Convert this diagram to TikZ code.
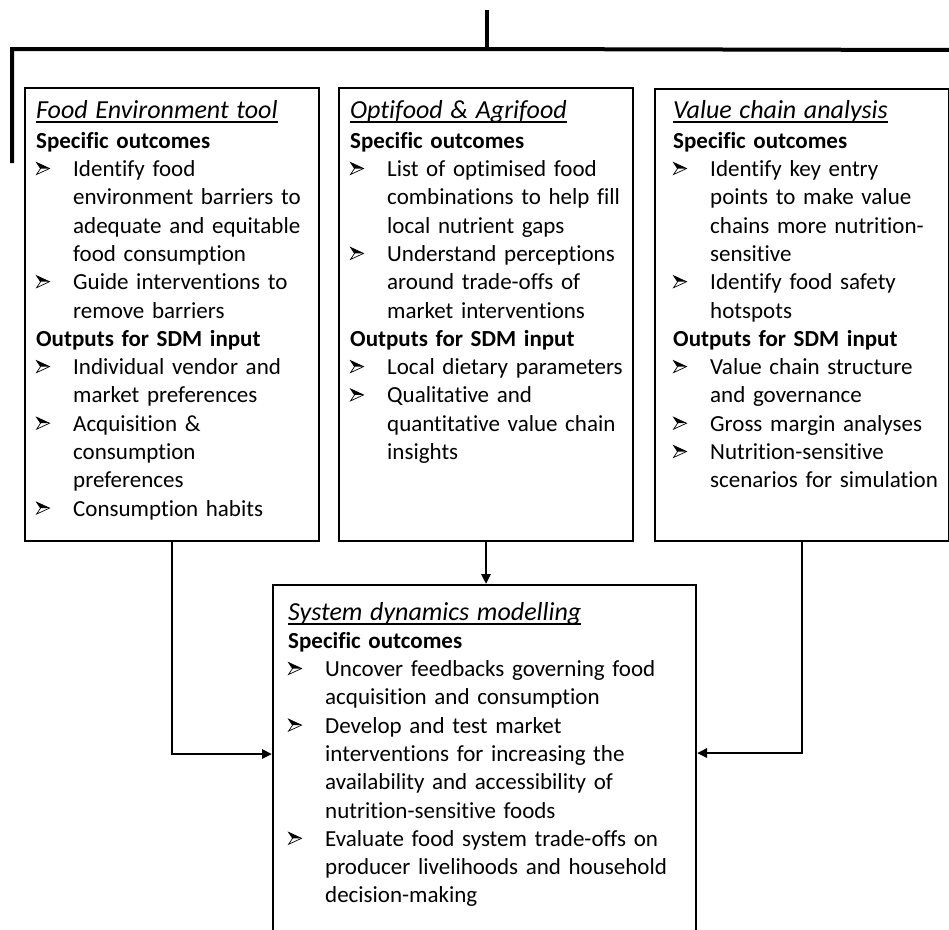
\documentclass[tikz,border=0pt]{standalone}
\usepackage{fontspec}
\setmainfont{Carlito}[Ligatures=NoCommon]
\usetikzlibrary{arrows.meta}
\newsavebox\ttlbox
\newsavebox\bulbox
\sbox\bulbox{\tikz[baseline=0pt]{%
  \fill[black] (0pt,14pt) -- (13pt,8pt) -- (4pt,8pt) -- cycle;
  \draw[black, line width=0.7pt, line join=miter] (0pt,14pt) -- (13pt,8pt) -- (0pt,2pt) -- (4pt,8pt) -- cycle;}}
\newcommand{\bul}{\makebox[37pt][l]{\usebox\bulbox}}
\newcommand{\ind}{\hspace*{37pt}}
\newcommand{\ttl}[1]{\sbox\ttlbox{\fontsize{26}{28.3}\selectfont\itshape #1}\rule{0pt}{20pt}\rlap{\rule[-4.3pt]{\wd\ttlbox}{1.2pt}}\usebox\ttlbox}
\newcommand{\hd}[1]{\textbf{#1}}
\tikzset{
  boxstyle/.style={draw=black, line width=2pt, inner sep=0pt, anchor=north west},
  txtstyle/.style={inner sep=0pt, anchor=north west, align=left, text width=#1,
    font=\fontsize{23}{28.3}\selectfont},
  link/.style={line width=2.5pt},
  trunk/.style={line width=4pt},
  arr/.style={link, -{Triangle[length=10pt,width=9pt]}}
}
\begin{document}
\begin{tikzpicture}[x=1pt,y=-1pt]
\useasboundingbox (0,0) rectangle (949,929);
% boxes
\node[boxstyle, minimum width=294pt, minimum height=453pt] (fe) at (24,87) {};
\node[boxstyle, minimum width=294pt, minimum height=453pt] (of) at (338,87) {};
\node[boxstyle, minimum width=294pt, minimum height=452pt] (vc) at (654,88) {};
\node[boxstyle, minimum width=423pt, minimum height=360pt] (sdm) at (272,584) {};
% texts
\node[txtstyle=300pt] (fet) at ([xshift=12pt,yshift=-11pt]fe.north west) {%
\ttl{Food Environment tool}\\[1.7pt]
\hd{Specific outcomes}\\
\bul Identify food\\
\ind environment barriers to\\
\ind adequate and equitable\\
\ind food consumption\\
\bul Guide interventions to\\
\ind remove barriers\\
\hd{Outputs for SDM input}\\
\bul Individual vendor and\\
\ind market preferences\\
\bul Acquisition \&\\
\ind consumption\\
\ind preferences\\
\bul Consumption habits};
\node[txtstyle=300pt] (oft) at ([xshift=12pt,yshift=-11pt]of.north west) {%
\ttl{Optifood \& Agrifood}\\[1.7pt]
\hd{Specific outcomes}\\
\bul List of optimised food\\
\ind combinations to help fill\\
\ind local nutrient gaps\\
\bul Understand perceptions\\
\ind around trade-offs of\\
\ind market interventions\\
\hd{Outputs for SDM input}\\
\bul Local dietary parameters\\
\bul Qualitative and\\
\ind quantitative value chain\\
\ind insights};
\node[txtstyle=300pt] (vct) at ([xshift=19pt,yshift=-10pt]vc.north west) {%
\ttl{Value chain analysis}\\[1.7pt]
\hd{Specific outcomes}\\
\bul Identify key entry\\
\ind points to make value\\
\ind chains more nutrition-\\
\ind sensitive\\
\bul Identify food safety\\
\ind hotspots\\
\hd{Outputs for SDM input}\\
\bul Value chain structure\\
\ind and governance\\
\bul Gross margin analyses\\
\bul Nutrition-sensitive\\
\ind scenarios for simulation};
\node[txtstyle=420pt] (sdmt) at ([xshift=16pt,yshift=-16pt]sdm.north west) {%
\ttl{System dynamics modelling}\\[-0.3pt]
\hd{Specific outcomes}\\
\bul Uncover feedbacks governing food\\
\ind acquisition and consumption\\
\bul Develop and test market\\
\ind interventions for increasing the\\
\ind availability and accessibility of\\
\ind nutrition-sensitive foods\\
\bul Evaluate food system trade-offs on\\
\ind producer livelihoods and household\\
\ind decision-making};
% trunk lines
\coordinate (topend) at (487,10);
\coordinate (junction) at (487,49);
\coordinate (leftend) at (12,163);
\coordinate (rightend) at (960,50);
\draw[trunk] (topend) -- (junction);
\draw[trunk] (leftend) -- (leftend |- junction) -- (junction) -- (rightend);
% connectors
\draw[arr] (fe.south) |- ([yshift=-170pt]sdm.north west);
\draw[arr] (vc.south) |- ([yshift=-169pt]sdm.north east);
\draw[arr] (of.south) -- (of.south |- sdm.north);
\end{tikzpicture}
\end{document}
